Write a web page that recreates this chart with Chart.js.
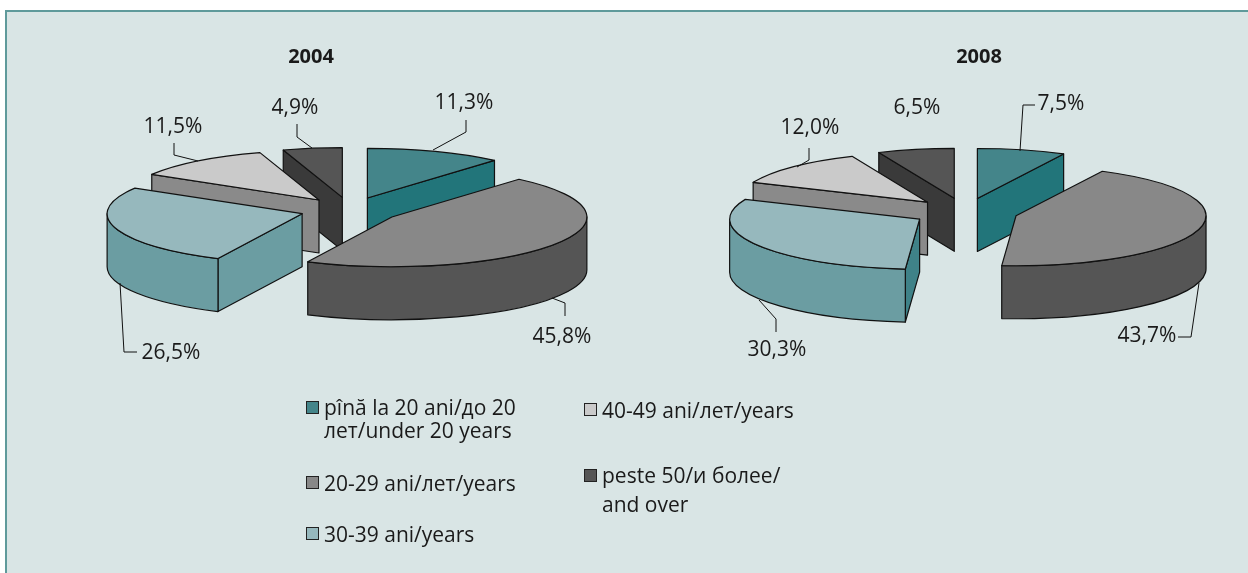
<!DOCTYPE html>
<html>
<head>
<meta charset="utf-8">
<title>2004 / 2008</title>
<script src="https://cdn.jsdelivr.net/npm/chart.js@4/dist/chart.umd.min.js"></script>
<style>
    html, body { margin: 0; padding: 0; width: 1248px; height: 573px; overflow: hidden; background: #ffffff; }
    body, .titulo, .leyenda { font-family: "Open Sans", sans-serif; color: #1a1a1a; }
    #marco {
        position: absolute; left: 5px; top: 10px; right: 0; bottom: 0;
        background: #d9e5e5;
        border-left: 2px solid #5f9a9b; border-top: 2px solid #5f9a9b;
    }
    canvas { position: absolute; top: 0; }
    .titulo { position: absolute; top: 42px; width: 120px; text-align: center; font-weight: 700; font-size: 20px; line-height: 28px; }
    .leyenda { position: absolute; font-size: 21px; white-space: nowrap; }
    .leyenda i {
        position: absolute; width: 11px; height: 11px;
        border: 1px solid #222222;
    }
</style>
</head>
<body>
<div id="marco"></div>
<canvas id="pie2004" width="700" height="420" style="left:0"></canvas>
<canvas id="pie2008" width="566" height="424" style="left:682px"></canvas>
<div class="titulo" style="left:251px">2004</div>
<div class="titulo" style="left:919px">2008</div>
<div id="leyendas"></div>

<script>
// Datos
const categorias = [
    ['pînă la 20 ani/до 20', 'лет/under 20 years'],
    ['20-29 ani/лет/years'],
    ['30-39 ani/years'],
    ['40-49 ani/лет/years'],
    ['peste 50/и более/', 'and over']
];
const valores2004 = [11.3, 45.8, 26.5, 11.5, 4.9];
const valores2008 = [7.5, 43.7, 30.3, 12.0, 6.5];

// Colores: cara superior y cara lateral
const colorTapa = ['#44858a', '#888888', '#96b8bd', '#cacaca', '#555555'];
const colorLado = ['#22757a', '#555555', '#6b9da2', '#8a8a8a', '#3a3a3a'];
const colorLinea = '#111111';

// Orden de pintado, de atras hacia delante
const ordenPintado = [4, 0, 3, 2, 1];

// Etiquetas y lineas guia en coordenadas de pagina
const guias2004 = [
    { texto: [464, 103], linea: [[466, 120], [466, 132], [433, 150]] },
    { texto: [562, 337], linea: [[565, 316], [565, 303], [552, 298]] },
    { texto: [171, 353], linea: [[137, 352], [124, 352], [120, 283]] },
    { texto: [173, 127], linea: [[174, 143], [174, 155], [198, 161]] },
    { texto: [295, 108], linea: [[297, 124], [297, 137], [312, 148]] }
];
const guias2008 = [
    { texto: [1061, 104], linea: [[1035, 105], [1023, 105], [1020, 151]] },
    { texto: [1147, 336], linea: [[1178, 337], [1191, 337], [1199, 283]] },
    { texto: [777, 350], linea: [[776, 332], [776, 319], [759, 300]] },
    { texto: [810, 128], linea: [[809, 148], [809, 160], [797, 167]] },
    { texto: [917, 108], linea: null }
];

function formatoPct(v) {
    return v.toFixed(1).replace('.', ',') + '%';
}

// Dibuja cada porcion con su volumen y deja la tapa a Chart.js
const pie3d = {
    id: 'pie3d',
    beforeDatasetDraw(chart) {
        const cfg = chart.options.plugins.pie3d;
        const ctx = chart.ctx;
        const arcos = chart.getDatasetMeta(0).data;

        ordenPintado.forEach(function(i) {
            const arco = arcos[i];
            const a0 = arco.startAngle;
            const a1 = arco.endAngle;
            const medio = (a0 + a1) / 2;
            const rx = arco.outerRadius;
            const ry = rx * cfg.achatado;
            const ax = arco.x + Math.cos(medio) * cfg.separacion;
            const ay = arco.y + Math.sin(medio) * cfg.separacion * cfg.achatado;
            const h = cfg.alto;

            ctx.save();
            ctx.lineWidth = cfg.grosor;
            ctx.strokeStyle = colorLinea;
            ctx.lineJoin = 'round';

            // caras de corte visibles
            function caraCorte(angulo, color) {
                const px = ax + Math.cos(angulo) * rx;
                const py = ay + Math.sin(angulo) * ry;
                ctx.beginPath();
                ctx.moveTo(ax, ay);
                ctx.lineTo(px, py);
                ctx.lineTo(px, py + h);
                ctx.lineTo(ax, ay + h);
                ctx.closePath();
                ctx.fillStyle = color;
                ctx.fill();
                ctx.stroke();
            }
            if (Math.cos(a0) < -0.001) {
                caraCorte(a0, (cfg.caraInicio && cfg.caraInicio[i]) || colorLado[i]);
            }
            if (Math.cos(a1) > 0.001) {
                caraCorte(a1, colorLado[i]);
            }

            // pared exterior, solo la mitad delantera
            const p0 = Math.max(a0, 0);
            const p1 = Math.min(a1, Math.PI);
            if (p1 > p0) {
                ctx.beginPath();
                ctx.ellipse(ax, ay, rx, ry, 0, p0, p1);
                ctx.lineTo(ax + Math.cos(p1) * rx, ay + Math.sin(p1) * ry + h);
                ctx.ellipse(ax, ay + h, rx, ry, 0, p1, p0, true);
                ctx.closePath();
                ctx.fillStyle = colorLado[i];
                ctx.fill();
                ctx.stroke();
            }

            // tapa: el arco de la libreria, aplastado
            ctx.save();
            ctx.translate(ax, ay);
            ctx.scale(1, cfg.achatado);
            ctx.translate(-arco.x, -arco.y);
            arco.draw(ctx);
            ctx.restore();

            ctx.beginPath();
            ctx.moveTo(ax, ay);
            ctx.ellipse(ax, ay, rx, ry, 0, a0, a1);
            ctx.closePath();
            ctx.stroke();
            ctx.restore();
        });
        return false;
    },
    afterDraw(chart) {
        const cfg = chart.options.plugins.pie3d;
        const ctx = chart.ctx;
        const izq = chart.canvas.offsetLeft;
        const datos = chart.data.datasets[0].data;

        ctx.save();
        ctx.font = cfg.letra;
        ctx.fillStyle = '#1a1a1a';
        ctx.textAlign = 'center';
        ctx.textBaseline = 'middle';
        ctx.strokeStyle = colorLinea;
        ctx.lineWidth = 1;
        cfg.guias.forEach(function(g, i) {
            if (g.linea) {
                ctx.beginPath();
                g.linea.forEach(function(p, n) {
                    if (n === 0) ctx.moveTo(p[0] - izq, p[1]);
                    else ctx.lineTo(p[0] - izq, p[1]);
                });
                ctx.stroke();
            }
            ctx.fillText(formatoPct(datos[i]), g.texto[0] - izq, g.texto[1]);
        });
        ctx.restore();
    }
};

function crearPie(id, valores, radio, opciones) {
    return new Chart(document.getElementById(id), {
        type: 'pie',
        data: {
            labels: categorias.map(function(c) { return c.join(' '); }),
            datasets: [{
                data: valores,
                backgroundColor: colorTapa,
                borderWidth: 0,
                radius: radio,
                clip: false
            }]
        },
        options: {
            responsive: false,
            animation: false,
            events: [],
            layout: { padding: 0 },
            plugins: {
                legend: { display: false },
                tooltip: { enabled: false },
                pie3d: opciones
            }
        },
        plugins: [pie3d]
    });
}

crearPie('pie2004', valores2004, 195, {
    achatado: 0.255, separacion: 50, alto: 53, grosor: 1.2,
    letra: '21px "Open Sans"', guias: guias2004
});
crearPie('pie2008', valores2008, 190, {
    achatado: 0.263, separacion: 53, alto: 53, grosor: 1.2,
    letra: '21px "Open Sans"', guias: guias2008,
    caraInicio: { 2: '#3f8288' }
});

// Leyenda en dos columnas
const sitioLeyenda = [
    { x: 306, y: 396, alto: 23 },
    { x: 306, y: 469, alto: 28 },
    { x: 306, y: 520, alto: 28 },
    { x: 584, y: 396, alto: 28 },
    { x: 584, y: 461, alto: 29 }
];
const contLeyenda = document.getElementById('leyendas');
categorias.forEach(function(lineas, i) {
    const s = sitioLeyenda[i];
    const item = document.createElement('div');
    item.className = 'leyenda';
    item.style.left = (s.x + 18) + 'px';
    item.style.top = s.y + 'px';
    item.style.lineHeight = s.alto + 'px';
    item.innerHTML = '<i style="left:-18px;top:' + (Math.round(s.alto / 2) - 7) + 'px;background:' + colorTapa[i] + '"></i>' + lineas.join('<br>');
    contLeyenda.appendChild(item);
});
</script>
</body>
</html>
